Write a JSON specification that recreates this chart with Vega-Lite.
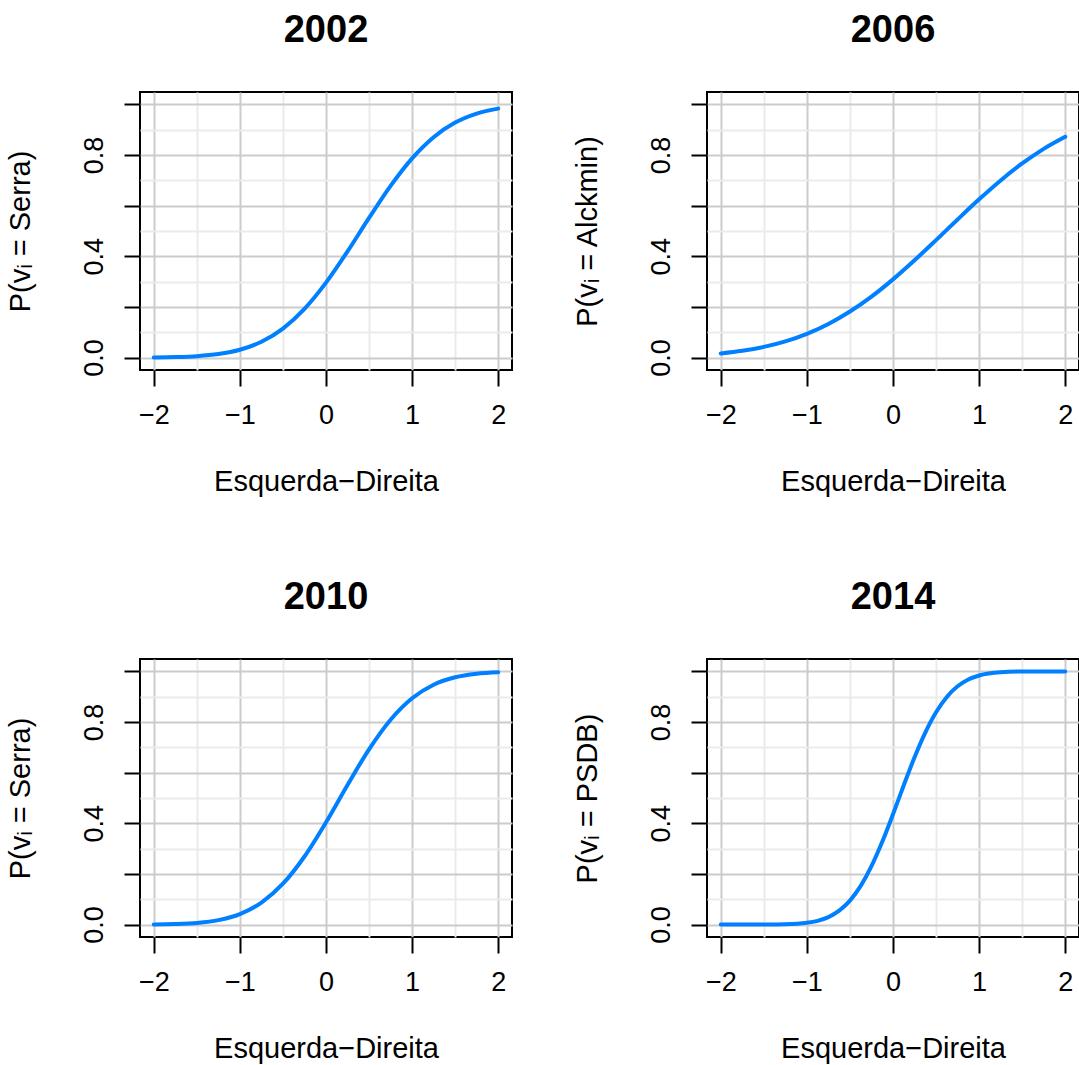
{
  "$schema": "https://vega.github.io/schema/vega-lite/v6.json",
  "background": "white",
  "padding": {"left": 5, "top": 11, "right": 5, "bottom": 5},
  "columns": 2,
  "bounds": "flush",
  "spacing": {"row": 289, "column": 195},
  "data": {"values": [
    {"year": "2002", "x": -2, "p": 0.0007}, {"year": "2002", "x": -1.75, "p": 0.0021}, {"year": "2002", "x": -1.5, "p": 0.0056}, {"year": "2002", "x": -1.25, "p": 0.0139},
    {"year": "2002", "x": -1, "p": 0.0309}, {"year": "2002", "x": -0.75, "p": 0.0624}, {"year": "2002", "x": -0.5, "p": 0.1147}, {"year": "2002", "x": -0.25, "p": 0.1924},
    {"year": "2002", "x": 0, "p": 0.296}, {"year": "2002", "x": 0.25, "p": 0.4196}, {"year": "2002", "x": 0.5, "p": 0.5517}, {"year": "2002", "x": 0.75, "p": 0.6783},
    {"year": "2002", "x": 1, "p": 0.787}, {"year": "2002", "x": 1.25, "p": 0.8706}, {"year": "2002", "x": 1.5, "p": 0.9281}, {"year": "2002", "x": 1.75, "p": 0.9637},
    {"year": "2002", "x": 2, "p": 0.9833},
    {"year": "2006", "x": -2, "p": 0.0164}, {"year": "2006", "x": -1.75, "p": 0.0267}, {"year": "2006", "x": -1.5, "p": 0.0422}, {"year": "2006", "x": -1.25, "p": 0.064},
    {"year": "2006", "x": -1, "p": 0.0939}, {"year": "2006", "x": -0.75, "p": 0.1329}, {"year": "2006", "x": -0.5, "p": 0.1819}, {"year": "2006", "x": -0.25, "p": 0.2407},
    {"year": "2006", "x": 0, "p": 0.3089}, {"year": "2006", "x": 0.25, "p": 0.3842}, {"year": "2006", "x": 0.5, "p": 0.4641}, {"year": "2006", "x": 0.75, "p": 0.5456},
    {"year": "2006", "x": 1, "p": 0.6251}, {"year": "2006", "x": 1.25, "p": 0.6997}, {"year": "2006", "x": 1.5, "p": 0.7667}, {"year": "2006", "x": 1.75, "p": 0.8245},
    {"year": "2006", "x": 2, "p": 0.8722},
    {"year": "2010", "x": -2, "p": 0.0006}, {"year": "2010", "x": -1.75, "p": 0.0022}, {"year": "2010", "x": -1.5, "p": 0.0066}, {"year": "2010", "x": -1.25, "p": 0.0176},
    {"year": "2010", "x": -1, "p": 0.0415}, {"year": "2010", "x": -0.75, "p": 0.0868}, {"year": "2010", "x": -0.5, "p": 0.1614}, {"year": "2010", "x": -0.25, "p": 0.269},
    {"year": "2010", "x": 0, "p": 0.404}, {"year": "2010", "x": 0.25, "p": 0.5517}, {"year": "2010", "x": 0.5, "p": 0.6923}, {"year": "2010", "x": 0.75, "p": 0.8092},
    {"year": "2010", "x": 1, "p": 0.894}, {"year": "2010", "x": 1.25, "p": 0.9475}, {"year": "2010", "x": 1.5, "p": 0.9769}, {"year": "2010", "x": 1.75, "p": 0.991},
    {"year": "2010", "x": 2, "p": 0.9969},
    {"year": "2014", "x": -2, "p": 0.0}, {"year": "2014", "x": -1.75, "p": 0.0}, {"year": "2014", "x": -1.5, "p": 0.0002}, {"year": "2014", "x": -1.25, "p": 0.0012},
    {"year": "2014", "x": -1, "p": 0.0069}, {"year": "2014", "x": -0.875, "p": 0.0149}, {"year": "2014", "x": -0.75, "p": 0.0297}, {"year": "2014", "x": -0.625, "p": 0.055},
    {"year": "2014", "x": -0.5, "p": 0.0949}, {"year": "2014", "x": -0.375, "p": 0.153}, {"year": "2014", "x": -0.25, "p": 0.2309}, {"year": "2014", "x": -0.125, "p": 0.3269},
    {"year": "2014", "x": 0, "p": 0.436}, {"year": "2014", "x": 0.125, "p": 0.5503}, {"year": "2014", "x": 0.25, "p": 0.6606}, {"year": "2014", "x": 0.375, "p": 0.7585},
    {"year": "2014", "x": 0.5, "p": 0.8387}, {"year": "2014", "x": 0.625, "p": 0.8991}, {"year": "2014", "x": 0.75, "p": 0.9411}, {"year": "2014", "x": 0.875, "p": 0.968},
    {"year": "2014", "x": 1, "p": 0.9838}, {"year": "2014", "x": 1.25, "p": 0.9967}, {"year": "2014", "x": 1.5, "p": 0.9995}, {"year": "2014", "x": 1.75, "p": 0.9999},
    {"year": "2014", "x": 2, "p": 1.0}
  ]},
  "concat": [
    {
      "title": "2002", "width": 372, "height": 278,
      "transform": [{"filter": "datum.year === '2002'"}],
      "mark": {"type": "line", "color": "#0080ff", "strokeWidth": 4, "interpolate": "monotone", "strokeCap": "round"},
      "encoding": {
        "x": {"field": "x", "type": "quantitative", "scale": {"domain": [-2.16, 2.16], "nice": false, "zero": false},
          "axis": {"values": [-2, -1.5, -1, -0.5, 0, 0.5, 1, 1.5, 2], "grid": true,
            "gridColor": {"condition": {"test": "datum.value % 1 === 0", "value": "#cccccc"}, "value": "#ebebeb"},
            "tickOpacity": {"condition": {"test": "datum.value % 1 === 0", "value": 1}, "value": 0},
            "labelExpr": "datum.value % 1 === 0 ? format(datum.value, 'd') : ''", "title": "Esquerda−Direita"}},
        "y": {"field": "p", "type": "quantitative", "scale": {"domain": [-0.049, 1.049], "nice": false, "zero": false},
          "axis": {"values": [0, 0.1, 0.2, 0.3, 0.4, 0.5, 0.6, 0.7, 0.8, 0.9, 1.0], "grid": true,
            "gridColor": {"condition": {"test": "abs(datum.value*5 - round(datum.value*5)) < 1e-6", "value": "#cccccc"}, "value": "#ebebeb"},
            "tickOpacity": {"condition": {"test": "abs(datum.value*5 - round(datum.value*5)) < 1e-6", "value": 1}, "value": 0},
            "labelExpr": "abs(datum.value*2.5 - round(datum.value*2.5)) < 1e-6 ? format(datum.value, '.1f') : ''",
            "labelAngle": -90, "title": "P(vᵢ = Serra)"}}
      }
    },
    {
      "title": "2006", "width": 372, "height": 278,
      "transform": [{"filter": "datum.year === '2006'"}],
      "mark": {"type": "line", "color": "#0080ff", "strokeWidth": 4, "interpolate": "monotone", "strokeCap": "round"},
      "encoding": {
        "x": {"field": "x", "type": "quantitative", "scale": {"domain": [-2.16, 2.16], "nice": false, "zero": false},
          "axis": {"values": [-2, -1.5, -1, -0.5, 0, 0.5, 1, 1.5, 2], "grid": true,
            "gridColor": {"condition": {"test": "datum.value % 1 === 0", "value": "#cccccc"}, "value": "#ebebeb"},
            "tickOpacity": {"condition": {"test": "datum.value % 1 === 0", "value": 1}, "value": 0},
            "labelExpr": "datum.value % 1 === 0 ? format(datum.value, 'd') : ''", "title": "Esquerda−Direita"}},
        "y": {"field": "p", "type": "quantitative", "scale": {"domain": [-0.049, 1.049], "nice": false, "zero": false},
          "axis": {"values": [0, 0.1, 0.2, 0.3, 0.4, 0.5, 0.6, 0.7, 0.8, 0.9, 1.0], "grid": true,
            "gridColor": {"condition": {"test": "abs(datum.value*5 - round(datum.value*5)) < 1e-6", "value": "#cccccc"}, "value": "#ebebeb"},
            "tickOpacity": {"condition": {"test": "abs(datum.value*5 - round(datum.value*5)) < 1e-6", "value": 1}, "value": 0},
            "labelExpr": "abs(datum.value*2.5 - round(datum.value*2.5)) < 1e-6 ? format(datum.value, '.1f') : ''",
            "labelAngle": -90, "title": "P(vᵢ = Alckmin)"}}
      }
    },
    {
      "title": "2010", "width": 372, "height": 278,
      "transform": [{"filter": "datum.year === '2010'"}],
      "mark": {"type": "line", "color": "#0080ff", "strokeWidth": 4, "interpolate": "monotone", "strokeCap": "round"},
      "encoding": {
        "x": {"field": "x", "type": "quantitative", "scale": {"domain": [-2.16, 2.16], "nice": false, "zero": false},
          "axis": {"values": [-2, -1.5, -1, -0.5, 0, 0.5, 1, 1.5, 2], "grid": true,
            "gridColor": {"condition": {"test": "datum.value % 1 === 0", "value": "#cccccc"}, "value": "#ebebeb"},
            "tickOpacity": {"condition": {"test": "datum.value % 1 === 0", "value": 1}, "value": 0},
            "labelExpr": "datum.value % 1 === 0 ? format(datum.value, 'd') : ''", "title": "Esquerda−Direita"}},
        "y": {"field": "p", "type": "quantitative", "scale": {"domain": [-0.049, 1.049], "nice": false, "zero": false},
          "axis": {"values": [0, 0.1, 0.2, 0.3, 0.4, 0.5, 0.6, 0.7, 0.8, 0.9, 1.0], "grid": true,
            "gridColor": {"condition": {"test": "abs(datum.value*5 - round(datum.value*5)) < 1e-6", "value": "#cccccc"}, "value": "#ebebeb"},
            "tickOpacity": {"condition": {"test": "abs(datum.value*5 - round(datum.value*5)) < 1e-6", "value": 1}, "value": 0},
            "labelExpr": "abs(datum.value*2.5 - round(datum.value*2.5)) < 1e-6 ? format(datum.value, '.1f') : ''",
            "labelAngle": -90, "title": "P(vᵢ = Serra)"}}
      }
    },
    {
      "title": "2014", "width": 372, "height": 278,
      "transform": [{"filter": "datum.year === '2014'"}],
      "mark": {"type": "line", "color": "#0080ff", "strokeWidth": 4, "interpolate": "monotone", "strokeCap": "round"},
      "encoding": {
        "x": {"field": "x", "type": "quantitative", "scale": {"domain": [-2.16, 2.16], "nice": false, "zero": false},
          "axis": {"values": [-2, -1.5, -1, -0.5, 0, 0.5, 1, 1.5, 2], "grid": true,
            "gridColor": {"condition": {"test": "datum.value % 1 === 0", "value": "#cccccc"}, "value": "#ebebeb"},
            "tickOpacity": {"condition": {"test": "datum.value % 1 === 0", "value": 1}, "value": 0},
            "labelExpr": "datum.value % 1 === 0 ? format(datum.value, 'd') : ''", "title": "Esquerda−Direita"}},
        "y": {"field": "p", "type": "quantitative", "scale": {"domain": [-0.049, 1.049], "nice": false, "zero": false},
          "axis": {"values": [0, 0.1, 0.2, 0.3, 0.4, 0.5, 0.6, 0.7, 0.8, 0.9, 1.0], "grid": true,
            "gridColor": {"condition": {"test": "abs(datum.value*5 - round(datum.value*5)) < 1e-6", "value": "#cccccc"}, "value": "#ebebeb"},
            "tickOpacity": {"condition": {"test": "abs(datum.value*5 - round(datum.value*5)) < 1e-6", "value": 1}, "value": 0},
            "labelExpr": "abs(datum.value*2.5 - round(datum.value*2.5)) < 1e-6 ? format(datum.value, '.1f') : ''",
            "labelAngle": -90, "title": "P(vᵢ = PSDB)"}}
      }
    }
  ],
  "config": {
    "font": "Liberation Sans",
    "view": {"stroke": "black", "strokeWidth": 2},
    "axis": {
      "domain": false, "tickSize": 16, "tickWidth": 2, "tickColor": "black", "gridWidth": 2,
      "labelFont": "Liberation Sans", "labelFontSize": 27, "labelColor": "black", "labelPadding": 16,
      "labelOverlap": false, "labelFlush": false,
      "titleFont": "Liberation Sans", "titleFontSize": 29, "titleFontWeight": "normal", "titleColor": "black"
    },
    "axisX": {"titlePadding": 39},
    "axisY": {"titlePadding": 45},
    "title": {"font": "Liberation Sans", "fontSize": 38, "fontWeight": "bold", "color": "black", "anchor": "middle", "offset": 42}
  }
}
